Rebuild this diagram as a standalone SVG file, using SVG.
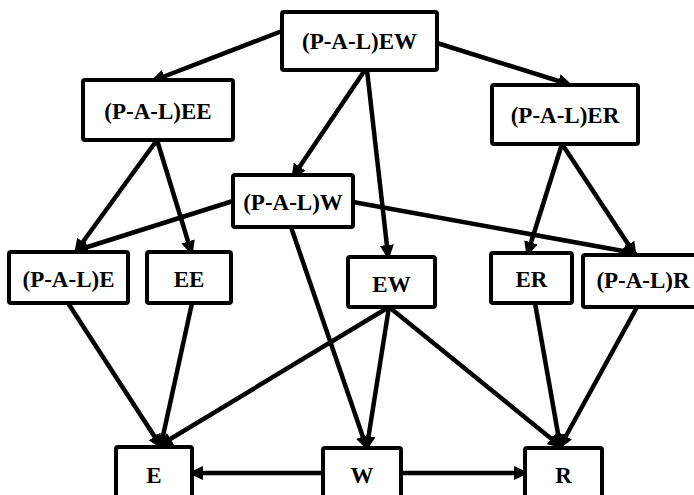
<svg xmlns="http://www.w3.org/2000/svg" width="694" height="495" viewBox="0 0 694 495">
<defs>
<style>
.box{fill:#fff;stroke:#000;stroke-width:4;}
.lbl{font-family:"Liberation Serif","Times New Roman",serif;font-weight:bold;font-size:23px;text-anchor:middle;fill:#000;}
.edge{stroke:#000;stroke-width:4.5;fill:none;marker-end:url(#ah);}
</style>
<marker id="ah" viewBox="0 0 15 14" refX="10" refY="7" markerWidth="15" markerHeight="14" markerUnits="userSpaceOnUse" orient="auto">
<path d="M0,0 L15,7 L0,14 z" fill="#000"/>
</marker>
</defs>
<rect width="694" height="495" fill="#fff"/>
<g id="connectors">
<line class="edge" x1="282" y1="31" x2="155" y2="80"/>
<line class="edge" x1="437" y1="43" x2="568" y2="84"/>
<line class="edge" x1="365" y1="70" x2="294" y2="175"/>
<line class="edge" x1="367" y1="70" x2="388" y2="255"/>
<line class="edge" x1="157" y1="140" x2="77" y2="250"/>
<line class="edge" x1="157" y1="140" x2="191" y2="251"/>
<line class="edge" x1="233" y1="201" x2="78" y2="250"/>
<line class="edge" x1="353" y1="202" x2="634" y2="253"/>
<line class="edge" x1="562" y1="144" x2="528" y2="252"/>
<line class="edge" x1="562" y1="144" x2="634" y2="253"/>
<line class="edge" x1="291" y1="227" x2="366" y2="446"/>
<line class="edge" x1="389" y1="307" x2="162" y2="444"/>
<line class="edge" x1="389" y1="307" x2="367" y2="446"/>
<line class="edge" x1="389" y1="307" x2="559" y2="445"/>
<line class="edge" x1="68" y1="303" x2="160" y2="445"/>
<line class="edge" x1="192" y1="303" x2="161" y2="445"/>
<line class="edge" x1="535" y1="303" x2="560" y2="445"/>
<line class="edge" x1="637" y1="307" x2="561" y2="445"/>
<line class="edge" x1="323" y1="473" x2="193" y2="473"/>
<line class="edge" x1="401" y1="473" x2="524" y2="473"/>
</g>
<g id="n-PAL-EW"><rect class="box" x="282" y="12" width="155" height="58" rx="2"/><text class="lbl" x="359.5" y="49">(P-A-L)EW</text></g>
<g id="n-PAL-EE"><rect class="box" x="83" y="80" width="150" height="60" rx="2"/><text class="lbl" x="158" y="119">(P-A-L)EE</text></g>
<g id="n-PAL-ER"><rect class="box" x="492" y="85" width="146" height="59" rx="2"/><text class="lbl" x="565" y="123">(P-A-L)ER</text></g>
<g id="n-PAL-W"><rect class="box" x="233" y="175" width="120" height="52" rx="2"/><text class="lbl" x="293" y="210">(P-A-L)W</text></g>
<g id="n-PAL-E"><rect class="box" x="9" y="252" width="119" height="51" rx="2"/><text class="lbl" x="68.5" y="287">(P-A-L)E</text></g>
<g id="n-EE"><rect class="box" x="147" y="252" width="84" height="51" rx="2"/><text class="lbl" x="189" y="287">EE</text></g>
<g id="n-EW"><rect class="box" x="348" y="257" width="87" height="50" rx="2"/><text class="lbl" x="391.5" y="292">EW</text></g>
<g id="n-ER"><rect class="box" x="491" y="253" width="81" height="50" rx="2"/><text class="lbl" x="531.5" y="287">ER</text></g>
<g id="n-PAL-R"><rect class="box" x="583" y="255" width="120" height="52" rx="2"/><text class="lbl" x="643" y="288">(P-A-L)R</text></g>
<g id="n-E"><rect class="box" x="116" y="447" width="76" height="60" rx="2"/><text class="lbl" x="154" y="483">E</text></g>
<g id="n-W"><rect class="box" x="323" y="448" width="78" height="60" rx="2"/><text class="lbl" x="362" y="483">W</text></g>
<g id="n-R"><rect class="box" x="525" y="448" width="77" height="60" rx="2"/><text class="lbl" x="563.5" y="483">R</text></g>
</svg>
